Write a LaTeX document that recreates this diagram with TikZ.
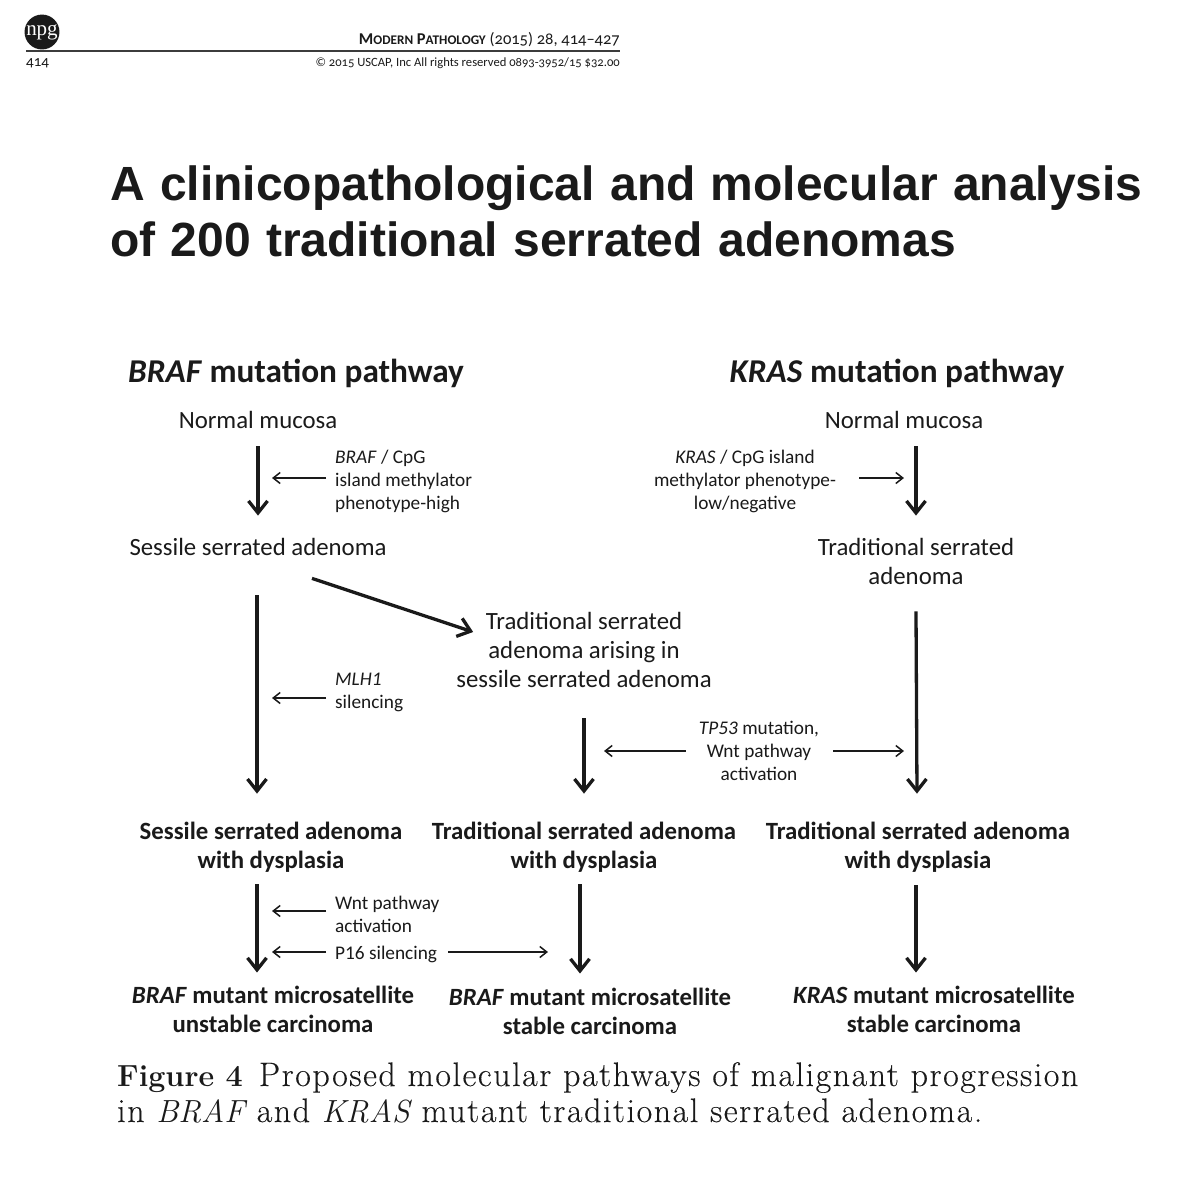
\documentclass[tikz,border=0pt]{standalone}
\usepackage{fontspec}
\setmainfont{Carlito}
\newfontfamily\titlefont[WordSpace=1.15]{Liberation Sans}
\newfontfamily\capfont[LetterSpace=4.5,FakeBold=0.15]{Latin Modern Roman}
\newfontfamily\capplain{Latin Modern Roman}
\newfontfamily\logofont{Liberation Serif}
\newfontfamily\headfont[Numbers=OldStyle]{Carlito}
\usetikzlibrary{arrows.meta,calc}
\definecolor{ink}{HTML}{1A1A1A}
\newcommand{\bigc}{\fontsize{16.5}{18}\selectfont}
\newcommand{\smc}{\fontsize{13.2}{18}\selectfont}
\newcommand{\capit}[1]{{\capplain\itshape\fontsize{32}{34}\selectfont #1}}
\newcommand{\capbf}[1]{{\capplain\bfseries\fontsize{30.5}{34}\selectfont #1}}
\tikzset{
 x=1pt,y=-1pt,
 lab/.style={inner sep=0pt,align=center,text=ink,font=\fontsize{24.8}{29}\selectfont},
 hd/.style={inner sep=0pt,text=ink,font=\fontsize{33.3}{38}\selectfont\bfseries},
 bl/.style={inner sep=0pt,align=center,text=ink,font=\fontsize{24.8}{29}\selectfont\bfseries},
 sm/.style={inner sep=0pt,align=left,text=ink,font=\fontsize{19.3}{23}\selectfont},
 bigar/.style={draw=ink,line width=3.3pt,-{Straight Barb[length=12pt,width=19pt,line width=3.3pt]}},
 thinar/.style={draw=ink,line width=1.5pt,-{Straight Barb[length=7pt,width=11pt,line width=1.5pt]}},
 ttl/.style={anchor=base west,inner sep=0pt,text=ink,font=\titlefont\bfseries\fontsize{48}{52}\selectfont},
 cpt/.style={anchor=base west,inner sep=0pt,text=ink,font=\capfont\fontsize{34}{34}\selectfont}
}
\begin{document}
\begin{tikzpicture}
\useasboundingbox (0,0) rectangle (1200,1200);
\fill[white] (0,0) rectangle (1200,1200);
% header
\node[fill=ink,circle,minimum size=32pt,inner sep=0pt,text=white,font=\logofont\fontsize{21}{21}\selectfont] (npg) at (42,32) {npg};
\coordinate (rl) at (26,51); \coordinate (rr) at (620,51);
\draw[ink!85,line width=1.6pt] (rl) -- (rr);
\node[anchor=east,inner sep=0pt,text=ink,font=\headfont\bigc] (jn) at (620,40) {\textbf{M{\smc ODERN} P{\smc ATHOLOGY}} (2015) 28, 414–427};
\node[anchor=west,inner sep=0pt,text=ink,font=\headfont\fontsize{15}{16}\selectfont] (pg) at (26,63) {414};
\node[anchor=east,inner sep=0pt,text=ink,font=\headfont\fontsize{12.6}{14}\selectfont] (cp) at (620,63) {© 2015 USCAP, Inc All rights reserved 0893-3952/15 \$32.00};
% title
\node[ttl] (t1) at (110,200) {A clinicopathological and molecular analysis};
\node[ttl] (t2) at (110,256) {of 200 traditional serrated adenomas};
% headers
\node[hd] (hb) at (296,373) {\textit{BRAF} mutation pathway};
\node[hd] (hk) at (897,373) {\textit{KRAS} mutation pathway};
% labels
\node[lab] (nm1) at (258,420) {Normal mucosa};
\node[lab] (ssa) at (258,547) {Sessile serrated adenoma};
\node[lab] (nm2) at (904,420) {Normal mucosa};
\node[lab] (tsa) at (916,561) {Traditional serrated\\adenoma};
\node[lab] (mid) at (584,650) {Traditional serrated\\adenoma arising in\\sessile serrated adenoma};
\node[bl] (d1) at (271,847) {Sessile serrated adenoma\\with dysplasia};
\node[bl] (d2) at (584,847) {Traditional serrated adenoma\\with dysplasia};
\node[bl] (d3) at (918,847) {Traditional serrated adenoma\\with dysplasia};
\node[bl] (c1) at (273,1009) {\textit{BRAF} mutant microsatellite\\unstable carcinoma};
\node[bl] (c2) at (590,1011) {\textit{BRAF} mutant microsatellite\\stable carcinoma};
\node[bl] (c3) at (934,1009) {\textit{KRAS} mutant microsatellite\\stable carcinoma};
% small
\node[sm,anchor=west] (s1) at (335,481) {\textit{BRAF} / CpG\\island methylator\\phenotype-high};
\node[sm,align=center] (s2) at (745,481) {\textit{KRAS} / CpG island\\methylator phenotype-\\low/negative};
\node[sm,anchor=west] (s3) at (335,692) {\textit{MLH1}\\silencing};
\node[sm,align=center] (s4) at (759,751) {\textit{TP53} mutation,\\Wnt pathway\\activation};
\node[sm,anchor=west] (s5) at (335,914) {Wnt pathway\\activation};
\node[sm,anchor=west] (s6) at (335,954) {P16 silencing};
% big arrows
\draw[bigar] ($(nm1.south)+(0,17.5)$) -- ($(ssa.north)+(0,-22.5)$);
\draw[bigar] ($(nm2.south)+(12,17.5)$) -- ($(tsa.north)+(0,-22)$);
\draw[bigar] ($(ssa.south)+(-1,39.5)$) -- ($(d1.north)+(-14,-28)$);
\draw[bigar] ($(ssa.south)+(54,22.5)$) -- ($(mid.west)+(17,-18)$);
\draw[bigar] ($(mid.south)+(0,30.5)$) -- ($(d2.north)+(0,-28)$);
\draw[bigar] ($(tsa.south)+(0,27)$) -- ($(d3.north)+(-1,-28)$);
\draw[bigar] ($(d1.south)+(-14,12)$) -- ($(c1.north)+(-16,-13)$);
\draw[bigar] ($(d2.south)+(-4,12)$) -- ($(c2.north)+(-10,-14)$);
\draw[bigar] ($(d3.south)+(-2,13)$) -- ($(c3.north)+(-18,-13)$);
% thin arrows
\coordinate (m) at (272,478);
\draw[thinar] ($(s1.west)+(-9,-3)$) -- (m);
\coordinate (n) at (904,478);
\draw[thinar] ($(s2.east)+(23,-3)$) -- (n);
\coordinate (o) at (272,698);
\draw[thinar] ($(s3.west)+(-9,6)$) -- (o);
\coordinate (p) at (604,751);
\draw[thinar] ($(s4.west)+(-13,0)$) -- (p);
\coordinate (q) at (904,751);
\draw[thinar] ($(s4.east)+(14,0)$) -- (q);
\coordinate (r) at (272,911);
\draw[thinar] ($(s5.west)+(-9,-3)$) -- (r);
\coordinate (u) at (272,952);
\draw[thinar] ($(s6.west)+(-9,-2)$) -- (u);
\coordinate (v) at (548,952);
\draw[thinar] ($(s6.east)+(11,-2)$) -- (v);
% caption
\node[cpt] (cap1) at (117,1086) {\capbf{Figure 4}\hspace{16pt}Proposed molecular pathways of malignant progression};
\node[cpt] (cap2) at (117,1122) {in \capit{BRAF} and \capit{KRAS} mutant traditional serrated adenoma.};
\end{tikzpicture}
\end{document}
